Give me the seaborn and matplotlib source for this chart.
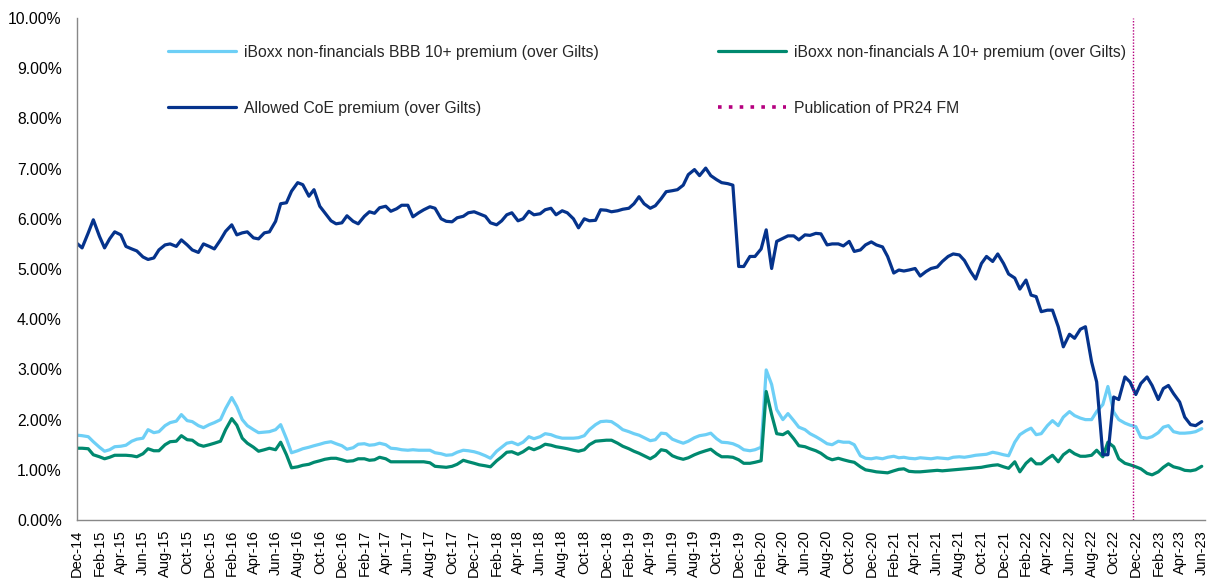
import pandas as pd
import matplotlib.pyplot as plt
import matplotlib.dates as mdates
from matplotlib.lines import Line2D
from matplotlib.ticker import FuncFormatter, MultipleLocator
import seaborn as sns

# Half-monthly observations (1st and 15th), Dec-14 to Jun-23, values in %
dates = pd.date_range('2014-12-01', periods=205, freq='SMS')

bbb_premium = [
    1.69, 1.68, 1.66, 1.56, 1.45, 1.37, 1.40, 1.46, 1.47, 1.49,
    1.57, 1.61, 1.63, 1.80, 1.74, 1.76, 1.88, 1.94, 1.97, 2.10,
    1.98, 1.96, 1.88, 1.84, 1.90, 1.94, 2.00, 2.22, 2.44, 2.26,
    2.00, 1.88, 1.80, 1.74, 1.75, 1.76, 1.80, 1.90, 1.62, 1.34,
    1.38, 1.42, 1.45, 1.48, 1.51, 1.54, 1.56, 1.52, 1.48, 1.41,
    1.44, 1.51, 1.52, 1.49, 1.50, 1.53, 1.50, 1.43, 1.42, 1.40,
    1.39, 1.40, 1.39, 1.39, 1.39, 1.34, 1.32, 1.29, 1.30, 1.35,
    1.39, 1.38, 1.36, 1.33, 1.28, 1.23, 1.37, 1.45, 1.53, 1.55,
    1.50, 1.55, 1.66, 1.62, 1.66, 1.72, 1.70, 1.66, 1.63, 1.63,
    1.63, 1.64, 1.68, 1.80, 1.90, 1.96, 1.97, 1.96, 1.88, 1.80,
    1.76, 1.72, 1.69, 1.64, 1.58, 1.60, 1.73, 1.72, 1.61, 1.57,
    1.53, 1.57, 1.64, 1.68, 1.70, 1.73, 1.62, 1.55, 1.54, 1.52,
    1.47, 1.40, 1.38, 1.40, 1.45, 2.99, 2.70, 2.20, 2.00, 2.12,
    1.98, 1.85, 1.80, 1.72, 1.66, 1.60, 1.52, 1.50, 1.57, 1.55,
    1.55, 1.50, 1.28, 1.23, 1.22, 1.24, 1.22, 1.25, 1.27, 1.24,
    1.25, 1.23, 1.22, 1.24, 1.23, 1.22, 1.24, 1.23, 1.22, 1.25,
    1.26, 1.25, 1.27, 1.29, 1.30, 1.31, 1.35, 1.33, 1.30, 1.28,
    1.55, 1.70, 1.78, 1.83, 1.70, 1.72, 1.88, 1.98, 1.88, 2.05,
    2.16, 2.08, 2.03, 2.00, 2.00, 2.16, 2.30, 2.66, 2.15, 2.00,
    1.93, 1.89, 1.86, 1.65, 1.63, 1.66, 1.74, 1.85, 1.88, 1.76,
    1.73, 1.73, 1.74, 1.76, 1.82,
]

a_premium = [
    1.43, 1.43, 1.42, 1.30, 1.26, 1.22, 1.25, 1.29, 1.29, 1.29,
    1.28, 1.26, 1.32, 1.42, 1.38, 1.38, 1.50, 1.56, 1.57, 1.68,
    1.60, 1.59, 1.50, 1.47, 1.50, 1.53, 1.57, 1.80, 2.02, 1.89,
    1.63, 1.53, 1.45, 1.37, 1.40, 1.43, 1.40, 1.55, 1.30, 1.04,
    1.06, 1.09, 1.11, 1.15, 1.18, 1.21, 1.23, 1.23, 1.20, 1.17,
    1.18, 1.22, 1.22, 1.19, 1.20, 1.25, 1.22, 1.16, 1.16, 1.16,
    1.16, 1.16, 1.16, 1.16, 1.14, 1.07, 1.06, 1.05, 1.07, 1.11,
    1.19, 1.16, 1.13, 1.10, 1.08, 1.06, 1.18, 1.26, 1.35, 1.36,
    1.31, 1.36, 1.44, 1.40, 1.45, 1.51, 1.49, 1.46, 1.44, 1.42,
    1.39, 1.37, 1.40, 1.50, 1.57, 1.58, 1.59, 1.59, 1.53, 1.47,
    1.42, 1.37, 1.33, 1.28, 1.22, 1.28, 1.40, 1.38, 1.28, 1.24,
    1.21, 1.24, 1.30, 1.34, 1.38, 1.41, 1.32, 1.26, 1.26, 1.25,
    1.20, 1.13, 1.13, 1.15, 1.18, 2.56, 2.10, 1.72, 1.70, 1.76,
    1.62, 1.48, 1.46, 1.42, 1.38, 1.33, 1.24, 1.20, 1.23, 1.20,
    1.17, 1.15, 1.06, 1.00, 0.98, 0.96, 0.95, 0.94, 0.98, 1.01,
    1.02, 0.97, 0.96, 0.96, 0.97, 0.98, 0.99, 0.98, 0.99, 1.00,
    1.01, 1.02, 1.03, 1.04, 1.05, 1.07, 1.09, 1.10, 1.06, 1.03,
    1.16, 0.96, 1.13, 1.22, 1.12, 1.12, 1.22, 1.29, 1.16, 1.30,
    1.39, 1.32, 1.27, 1.27, 1.29, 1.39, 1.26, 1.55, 1.46, 1.22,
    1.13, 1.10, 1.06, 1.02, 0.93, 0.90, 0.96, 1.05, 1.12, 1.06,
    1.03, 0.99, 0.98, 1.00, 1.07,
]

coe_premium = [
    5.51, 5.42, 5.72, 5.98, 5.65, 5.42, 5.60, 5.74, 5.68, 5.45,
    5.40, 5.36, 5.24, 5.19, 5.22, 5.38, 5.48, 5.50, 5.45, 5.58,
    5.48, 5.38, 5.33, 5.50, 5.45, 5.40, 5.58, 5.75, 5.88, 5.68,
    5.72, 5.74, 5.62, 5.60, 5.72, 5.74, 5.95, 6.30, 6.32, 6.55,
    6.72, 6.68, 6.45, 6.58, 6.25, 6.12, 5.96, 5.90, 5.92, 6.06,
    5.95, 5.90, 6.05, 6.14, 6.11, 6.22, 6.25, 6.15, 6.20, 6.27,
    6.27, 6.04, 6.12, 6.18, 6.24, 6.21, 6.00, 5.95, 5.94, 6.02,
    6.05, 6.12, 6.14, 6.10, 6.05, 5.92, 5.88, 5.96, 6.08, 6.12,
    5.96, 6.00, 6.15, 6.08, 6.10, 6.18, 6.21, 6.08, 6.16, 6.12,
    6.00, 5.82, 6.00, 5.96, 5.97, 6.18, 6.17, 6.14, 6.16, 6.19,
    6.21, 6.30, 6.44, 6.30, 6.21, 6.26, 6.40, 6.54, 6.56, 6.58,
    6.67, 6.88, 6.98, 6.86, 7.01, 6.86, 6.78, 6.72, 6.70, 6.67,
    5.05, 5.05, 5.25, 5.25, 5.40, 5.78, 5.01, 5.55, 5.61, 5.66,
    5.66, 5.58, 5.68, 5.67, 5.71, 5.70, 5.48, 5.50, 5.50, 5.46,
    5.55, 5.35, 5.38, 5.48, 5.54, 5.48, 5.44, 5.25, 4.92, 4.98,
    4.96, 4.98, 5.01, 4.86, 4.95, 5.01, 5.04, 5.15, 5.25, 5.30,
    5.28, 5.17, 4.95, 4.80, 5.11, 5.25, 5.15, 5.30, 5.11, 4.90,
    4.82, 4.60, 4.78, 4.48, 4.45, 4.15, 4.18, 4.18, 3.85, 3.45,
    3.70, 3.62, 3.80, 3.85, 3.15, 2.75, 1.30, 1.30, 2.45, 2.40,
    2.85, 2.75, 2.50, 2.72, 2.85, 2.68, 2.40, 2.62, 2.68, 2.52,
    2.35, 2.05, 1.90, 1.88, 1.96,
]

labels = [
    'iBoxx non-financials BBB 10+ premium (over Gilts)',
    'iBoxx non-financials A 10+ premium (over Gilts)',
    'Allowed CoE premium (over Gilts)',
    'Publication of PR24 FM',
]
colors = ['#6DCFF6', '#00896F', '#05338C', '#B5007F']
pr24_date = pd.Timestamp('2022-11-24')

# Long-form table for seaborn
df = pd.concat([
    pd.DataFrame({'date': dates, 'value': bbb_premium, 'series': labels[0]}),
    pd.DataFrame({'date': dates, 'value': a_premium, 'series': labels[1]}),
    pd.DataFrame({'date': dates, 'value': coe_premium, 'series': labels[2]}),
])

sns.set_style('white')
plt.rcParams['font.family'] = ['Liberation Sans', 'DejaVu Sans']
font_size = 11.3

fig = plt.figure(figsize=(12.09, 5.8), dpi=100)
ax = fig.add_axes([0.0637, 0.1034, 0.933, 0.8656])

sns.lineplot(data=df, x='date', y='value', hue='series',
             palette=dict(zip(labels[:3], colors[:3])),
             linewidth=2.3, legend=False, ax=ax)
ax.axvline(pr24_date, color=colors[3], linestyle=(0, (1, 1.2)), linewidth=1.0)

# Axes formatting
ax.set_ylim(0, 10)
ax.yaxis.set_major_locator(MultipleLocator(1))
ax.yaxis.set_major_formatter(FuncFormatter(lambda v, p: f'{v:.2f}%'))
ax.set_xlim(pd.Timestamp('2014-12-01'), pd.Timestamp('2023-06-10'))
ax.xaxis.set_major_locator(mdates.MonthLocator(bymonth=[2, 4, 6, 8, 10, 12]))
ax.xaxis.set_major_formatter(mdates.DateFormatter('%b-%y'))
ax.set_xlabel('')
ax.set_ylabel('')

for side in ['top', 'right']:
    ax.spines[side].set_visible(False)
for side in ['left', 'bottom']:
    ax.spines[side].set_color('#888888')
    ax.spines[side].set_linewidth(1.0)

ax.tick_params(axis='both', direction='out', length=4, width=1,
               color='#888888', labelcolor='black')
ax.tick_params(axis='x', labelrotation=90, labelsize=10.5, pad=3)
ax.tick_params(axis='y', labelsize=font_size, pad=7)

# Legend in two columns at top
handles = [
    Line2D([], [], color=colors[0], linewidth=2.3),
    Line2D([], [], color=colors[2], linewidth=2.3),
    Line2D([], [], color=colors[1], linewidth=2.3),
    Line2D([], [], color=colors[3], linewidth=2.6, linestyle=(0, (1, 2))),
]
order = [labels[0], labels[2], labels[1], labels[3]]
fig.legend(handles, order, ncol=2, loc='upper left',
           bbox_to_anchor=(0.139, 0.923), frameon=False, fontsize=font_size,
           handlelength=4.33, handletextpad=0.5, labelspacing=2.62,
           columnspacing=7.6, borderpad=0, borderaxespad=0)

fig.savefig('out.png', dpi=100)
